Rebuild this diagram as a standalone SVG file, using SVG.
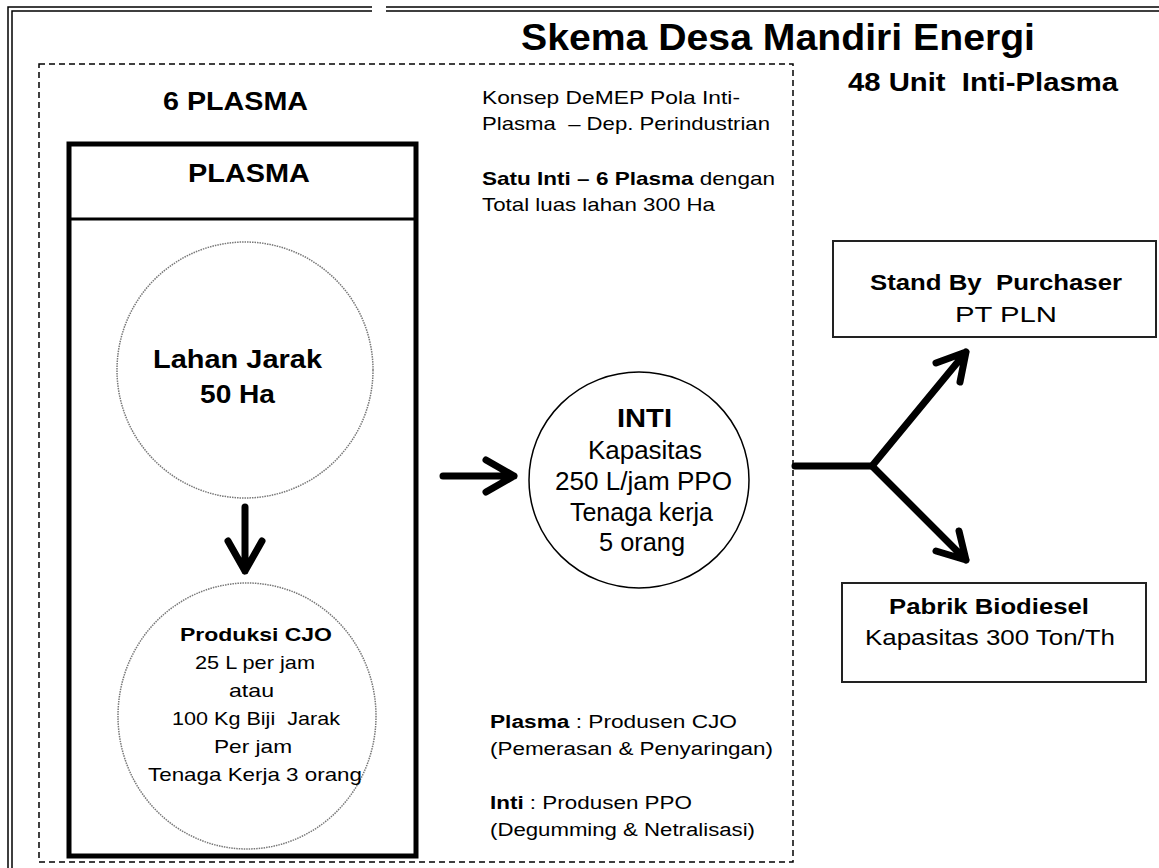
<svg xmlns="http://www.w3.org/2000/svg" width="1159" height="868" viewBox="0 0 1159 868">
<style>
text{font-family:"Liberation Sans",Arial,sans-serif;fill:#000}
.b{font-weight:bold}
.frame{fill:none;stroke:#000;stroke-width:1.5}
.dash{fill:none;stroke:#000;stroke-width:1.5;stroke-dasharray:6,4}
.dot{fill:#fff;stroke:#777;stroke-width:1.5;stroke-dasharray:1.5,1}
.arrow{fill:none;stroke:#000;stroke-width:7;stroke-linecap:round;stroke-linejoin:round}
.box{fill:#fff;stroke:#222;stroke-width:2}
</style>
<rect width="1159" height="868" fill="#fff"/>
<g id="frame">
<path class="frame" d="M8,868 V7 H372 M386,7 H1159"/>
<path class="frame" d="M12,868 V11 H372 M386,11 H1159"/>
<rect class="dash" x="39" y="64" width="754" height="798"/>
</g>
<g id="title">
<text class="b" x="521" y="50" font-size="36" textLength="514" lengthAdjust="spacingAndGlyphs">Skema Desa Mandiri Energi</text>
<text class="b" x="848" y="91" font-size="25" textLength="270" lengthAdjust="spacingAndGlyphs" xml:space="preserve">48 Unit  Inti-Plasma</text>
<text class="b" x="163" y="110" font-size="25" textLength="145" lengthAdjust="spacingAndGlyphs">6 PLASMA</text>
</g>
<g id="notes">
<text x="482" y="104" font-size="19" textLength="258" lengthAdjust="spacingAndGlyphs">Konsep DeMEP Pola Inti-</text>
<text x="482" y="130" font-size="19" textLength="288" lengthAdjust="spacingAndGlyphs" xml:space="preserve">Plasma  – Dep. Perindustrian</text>
<text x="482" y="185" font-size="19" textLength="293" lengthAdjust="spacingAndGlyphs"><tspan class="b">Satu Inti – 6 Plasma</tspan> dengan</text>
<text x="482" y="211" font-size="19" textLength="233" lengthAdjust="spacingAndGlyphs">Total luas lahan 300 Ha</text>
<text x="490" y="728" font-size="18" textLength="247" lengthAdjust="spacingAndGlyphs"><tspan class="b">Plasma</tspan> : Produsen CJO</text>
<text x="490" y="755" font-size="18" textLength="283" lengthAdjust="spacingAndGlyphs">(Pemerasan &amp; Penyaringan)</text>
<text x="490" y="809" font-size="18" textLength="202" lengthAdjust="spacingAndGlyphs"><tspan class="b">Inti</tspan> : Produsen PPO</text>
<text x="490" y="836" font-size="18" textLength="265" lengthAdjust="spacingAndGlyphs">(Degumming &amp; Netralisasi)</text>
</g>
<g id="plasma">
<rect x="69" y="144" width="347" height="712" fill="#fff" stroke="#000" stroke-width="5"/>
<line x1="69" y1="219" x2="416" y2="219" stroke="#000" stroke-width="3"/>
<text class="b" x="188" y="182" font-size="25" textLength="122" lengthAdjust="spacingAndGlyphs">PLASMA</text>
</g>
<g id="lahan">
<circle class="dot" cx="245" cy="370" r="128"/>
<text class="b" x="153" y="368" font-size="26" textLength="169" lengthAdjust="spacingAndGlyphs">Lahan Jarak</text>
<text class="b" x="200" y="403" font-size="26" textLength="75" lengthAdjust="spacingAndGlyphs">50 Ha</text>
</g>
<g id="produksi">
<ellipse class="dot" cx="247" cy="716" rx="129" ry="133"/>
<g font-size="19">
<text class="b" x="180" y="641" textLength="152" lengthAdjust="spacingAndGlyphs">Produksi CJO</text>
<text x="195" y="669" textLength="120" lengthAdjust="spacingAndGlyphs">25 L per jam</text>
<text x="229" y="697" textLength="45" lengthAdjust="spacingAndGlyphs">atau</text>
<text x="172" y="725" textLength="168" lengthAdjust="spacingAndGlyphs" xml:space="preserve">100 Kg Biji  Jarak</text>
<text x="214" y="753" textLength="78" lengthAdjust="spacingAndGlyphs">Per jam</text>
<text x="148" y="781" textLength="214" lengthAdjust="spacingAndGlyphs">Tenaga Kerja 3 orang</text>
</g>
</g>
<g id="inti">
<ellipse cx="639" cy="480" rx="110" ry="108" fill="#fff" stroke="#000" stroke-width="1.5"/>
<g font-size="25">
<text class="b" x="617" y="427" textLength="55" lengthAdjust="spacingAndGlyphs">INTI</text>
<text x="588" y="459" textLength="114" lengthAdjust="spacingAndGlyphs">Kapasitas</text>
<text x="555" y="490" textLength="177" lengthAdjust="spacingAndGlyphs">250 L/jam PPO</text>
<text x="570" y="521" textLength="143" lengthAdjust="spacingAndGlyphs">Tenaga kerja</text>
<text x="599" y="551" textLength="86" lengthAdjust="spacingAndGlyphs">5 orang</text>
</g>
</g>
<g id="standby">
<rect class="box" x="833" y="241" width="323" height="96"/>
<text class="b" x="870" y="290" font-size="22" textLength="252" lengthAdjust="spacingAndGlyphs" xml:space="preserve">Stand By  Purchaser</text>
<text x="955" y="322" font-size="22" textLength="102" lengthAdjust="spacingAndGlyphs">PT PLN</text>
</g>
<g id="pabrik">
<rect class="box" x="842" y="583" width="304" height="99"/>
<text class="b" x="889" y="614" font-size="22" textLength="200" lengthAdjust="spacingAndGlyphs">Pabrik Biodiesel</text>
<text x="865" y="645" font-size="22" textLength="250" lengthAdjust="spacingAndGlyphs">Kapasitas 300 Ton/Th</text>
</g>
<g id="connectors">
<path class="arrow" d="M245,507 V571 M228,541 L245,571 L262,541"/>
<path class="arrow" d="M443,476 H514 M486,460 L514,476 L486,492"/>
<path class="arrow" d="M795,466 H872 L966,352 M936,363 L966,352 L960,382"/>
<path class="arrow" d="M872,466 L966,560 M959,531 L966,560 L936,551"/>
</g>
</svg>
